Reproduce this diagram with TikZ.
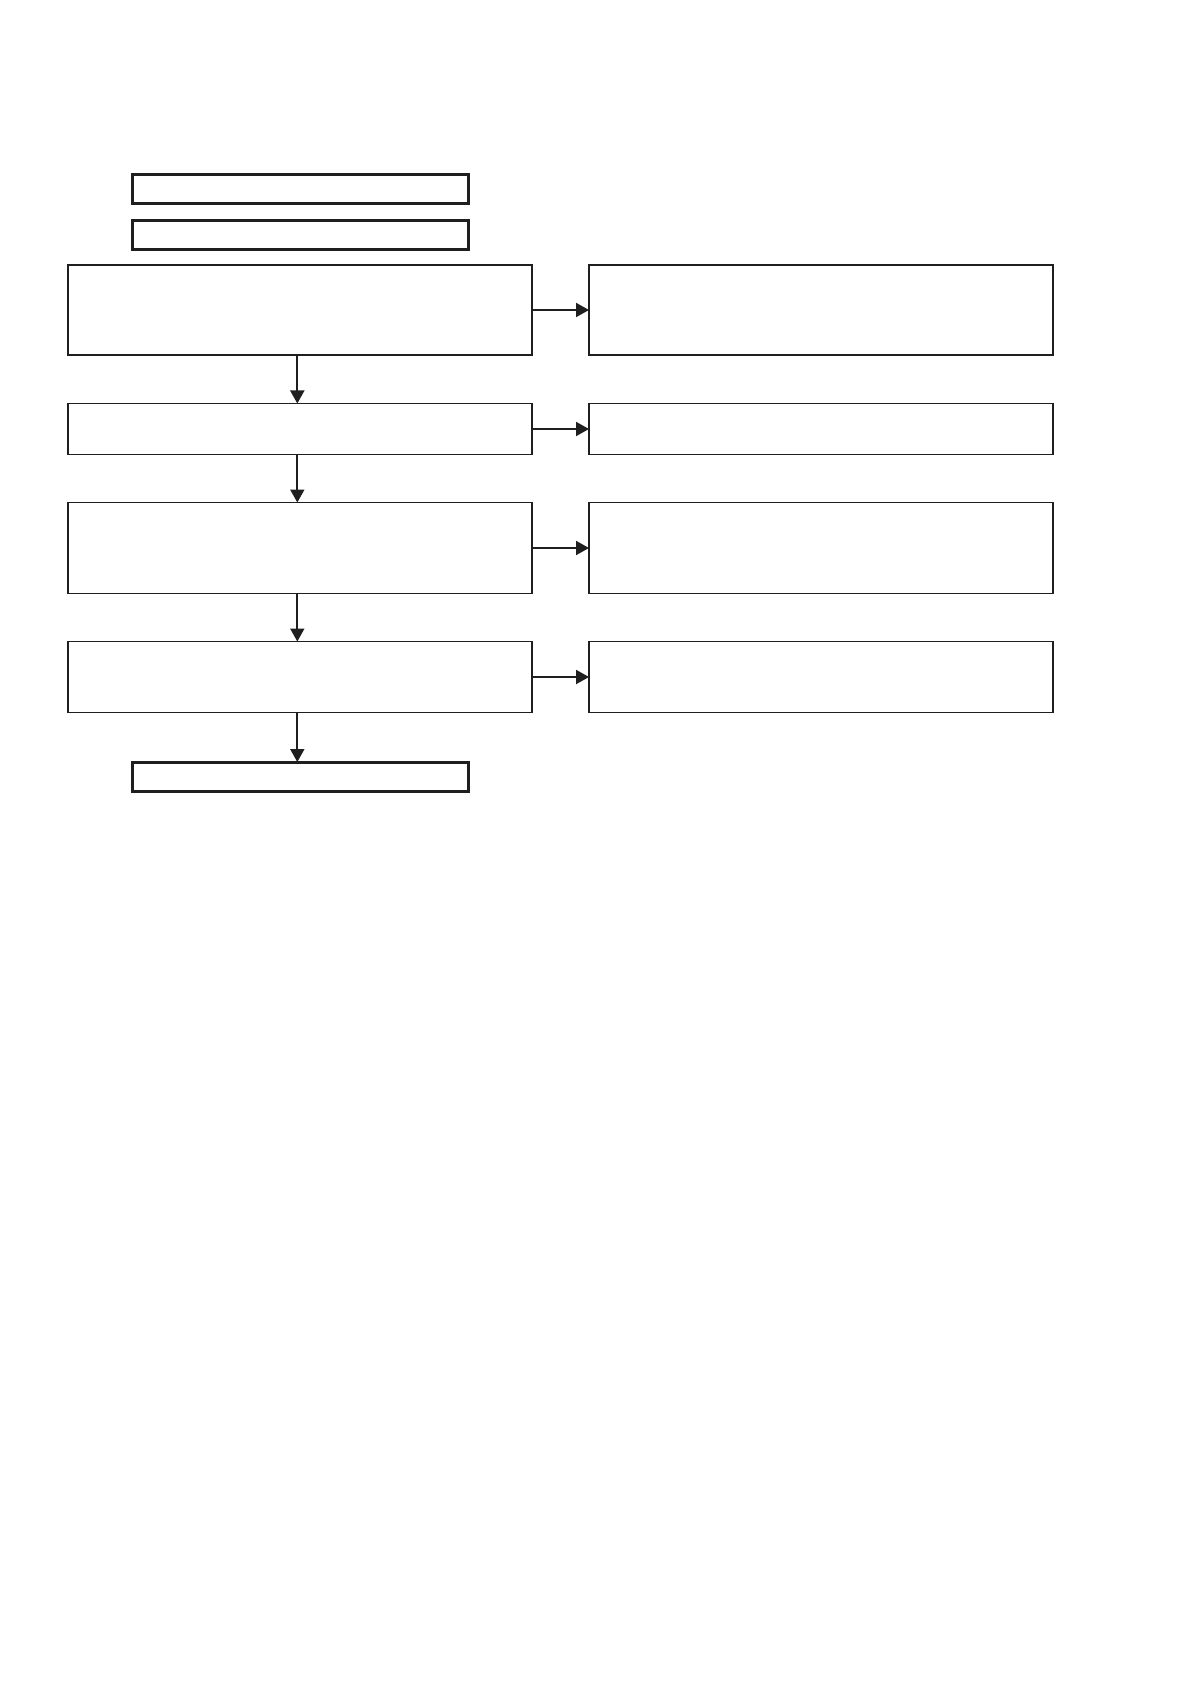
\documentclass[tikz,border=0pt]{standalone}
\usetikzlibrary{arrows.meta}
\begin{document}
\begin{tikzpicture}[x=0.5pt,y=-0.5pt,
  thinbox/.style={draw=black!88,line width=0.85pt,inner sep=0pt,outer sep=0pt,minimum width=232pt},
  thickbox/.style={draw=black!88,line width=1.5pt,inner sep=0pt,outer sep=0pt,minimum width=168pt,minimum height=14.5pt},
  arr/.style={draw=black!88,line width=1pt,-{Triangle[length=6.5pt,width=7pt]}}]
\useasboundingbox (0,0) rectangle (1191,1684);
\node[thickbox] (A) at (300.3,189.5) {};
\node[thickbox] (B) at (300.3,235) {};
\node[thinbox,minimum height=45pt] (L1) at (300.3,310) {};
\node[thinbox,minimum height=45pt] (R1) at (821,310) {};
\node[thinbox,minimum height=25.5pt] (L2) at (300.3,429) {};
\node[thinbox,minimum height=25.5pt] (R2) at (821,429) {};
\node[thinbox,minimum height=45.5pt] (L3) at (300.3,548) {};
\node[thinbox,minimum height=45.5pt] (R3) at (821,548) {};
\node[thinbox,minimum height=35.5pt] (L4) at (300.3,677) {};
\node[thinbox,minimum height=35.5pt] (R4) at (821,677) {};
\node[thickbox] (F) at (300.3,776.5) {};
\draw[arr] (L1.east) -- (R1.west);
\draw[arr] (L2.east) -- (R2.west);
\draw[arr] (L3.east) -- (R3.west);
\draw[arr] (L4.east) -- (R4.west);
\draw[arr] ([xshift=-1.5pt]L1.south) -- ([xshift=-1.5pt]L2.north);
\draw[arr] ([xshift=-1.5pt]L2.south) -- ([xshift=-1.5pt]L3.north);
\draw[arr] ([xshift=-1.5pt]L3.south) -- ([xshift=-1.5pt]L4.north);
\draw[arr] ([xshift=-1.5pt]L4.south) -- ([xshift=-1.5pt]F.north);
\end{tikzpicture}
\end{document}
